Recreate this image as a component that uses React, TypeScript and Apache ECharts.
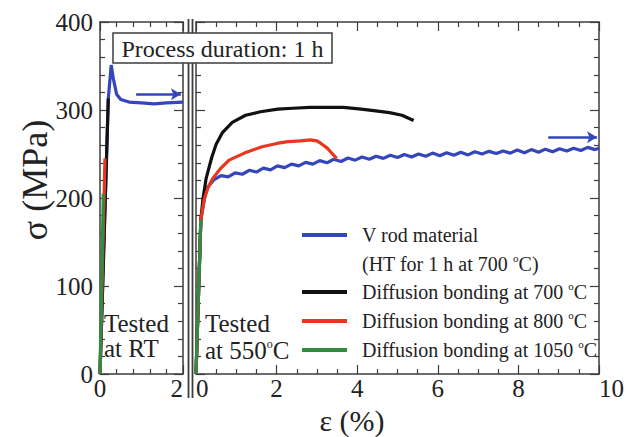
import React, { useEffect, useRef } from "react";
import * as echarts from "echarts";

// Stress–strain data, strain in %, stress in MPa
// Room-temperature tests (left panel)
const vRodRT: [number, number][] = [
  [0, 0], [0.2, 313], [0.27, 351], [0.32, 336], [0.4, 318], [0.5, 312],
  [0.7, 309], [1.0, 308], [1.3, 307], [1.6, 308], [2.0, 309],
];
const bond700RT: [number, number][] = [[0, 0], [0.2, 313]];
const bond800RT: [number, number][] = [[0, 0], [0.12, 245]];
const bond1050RT: [number, number][] = [[0, 0], [0.08, 205]];

// 550 °C tests (right panel)
const vRod550: [number, number][] = [
  [0, 0], [0.12, 175], [0.25, 210], [0.45, 221], [0.62, 225.5], [0.8, 224],
  [0.97, 228.5], [1.15, 227], [1.32, 231.5], [1.5, 229.5], [1.67, 234], [1.85, 232],
  [2.02, 236.5], [2.2, 234.5], [2.37, 238.5], [2.55, 236.5], [2.72, 240.5], [2.9, 238.5],
  [3.07, 242.5], [3.25, 240], [3.42, 244], [3.6, 241.5], [3.77, 245.5], [3.95, 243],
  [4.12, 246.5], [4.3, 244], [4.47, 247.5], [4.65, 245], [4.82, 248.5], [5.0, 246],
  [5.17, 249.5], [5.35, 246.5], [5.52, 250], [5.7, 247.5], [5.87, 251], [6.05, 248],
  [6.22, 251.5], [6.4, 248.5], [6.57, 252], [6.75, 249], [6.92, 252.5], [7.1, 250],
  [7.27, 253], [7.45, 250.5], [7.62, 253.5], [7.8, 251], [7.97, 254.5], [8.15, 251.5],
  [8.32, 255], [8.5, 252], [8.67, 255.5], [8.85, 252.5], [9.02, 256], [9.2, 253.5],
  [9.37, 256.5], [9.55, 254], [9.72, 257.5], [9.9, 255], [10.0, 256.5],
];
const bond700_550: [number, number][] = [
  [0, 0], [0.12, 175], [0.17, 198], [0.25, 222], [0.39, 246], [0.5, 261],
  [0.65, 274], [0.9, 286], [1.23, 294], [1.6, 298], [2.03, 301], [2.4, 302],
  [2.83, 303], [3.3, 303], [3.66, 303], [4.1, 301], [4.46, 299], [4.8, 297],
  [5.11, 294], [5.4, 288],
];
const bond800_550: [number, number][] = [
  [0, 0], [0.12, 175], [0.2, 198], [0.3, 212], [0.41, 222], [0.6, 233],
  [0.82, 243], [1.2, 251], [1.62, 258], [2.0, 262], [2.28, 264], [2.6, 265],
  [2.83, 266], [3.0, 265], [3.1, 262], [3.25, 257], [3.35, 252], [3.49, 245],
];
const bond1050_550: [number, number][] = [[0, 0], [0.12, 175]];

// "continues beyond the axis" arrows for the V rod curves
const arrowRT: [number, number][] = [[0.87, 318], [1.95, 318]];
const arrow550: [number, number][] = [[8.74, 269], [9.95, 269]];

const names = {
  vRod: "V rod material",
  b700: "Diffusion bonding at 700 °C",
  b800: "Diffusion bonding at 800 °C",
  b1050: "Diffusion bonding at 1050 °C",
};

const COLORS = {
  vRod: "#3546bd",
  b700: "#111111",
  b800: "#e8361f",
  b1050: "#2f8c40",
};

const FONT = "Liberation Serif";
const INK = "#222";
const FRAME = "#3d3d3d";

function xAxis(gridIndex: number, max: number, minorSplit: number, position: "top" | "bottom", labels: boolean, alignMin: string, alignMax: string) {
  return {
    type: "value",
    gridIndex,
    position,
    min: 0,
    max,
    interval: 2,
    axisLine: { show: true, onZero: false, lineStyle: { color: FRAME, width: 1.5 } },
    axisTick: { show: true, inside: true, length: 9, lineStyle: { color: FRAME, width: 1.2 } },
    minorTick: { show: true, splitNumber: minorSplit, length: 5, lineStyle: { color: FRAME, width: 1.2 } },
    splitLine: { show: false },
    axisLabel: {
      show: labels,
      fontFamily: FONT,
      fontSize: 25,
      color: INK,
      margin: 2,
      showMinLabel: true,
      showMaxLabel: true,
      alignMinLabel: alignMin,
      alignMaxLabel: alignMax,
    },
  };
}

function yAxis(gridIndex: number, position: "left" | "right", labels: boolean) {
  return {
    type: "value",
    gridIndex,
    position,
    min: 0,
    max: 400,
    interval: 100,
    axisLine: { show: true, onZero: false, lineStyle: { color: FRAME, width: 1.5 } },
    axisTick: { show: true, inside: true, length: 9, lineStyle: { color: FRAME, width: 1.2 } },
    minorTick: { show: true, splitNumber: 5, length: 5, lineStyle: { color: FRAME, width: 1.2 } },
    splitLine: { show: false },
    axisLabel: { show: labels, fontFamily: FONT, fontSize: 25, color: INK, margin: 7 },
  };
}

function curve(name: string, color: string, data: [number, number][], axis: number, z: number, arrow?: [number, number][]) {
  const s: any = {
    type: "line",
    name,
    xAxisIndex: axis,
    yAxisIndex: axis,
    data,
    showSymbol: false,
    symbol: "none",
    smooth: false,
    z,
    lineStyle: { color, width: 3.2 },
    emphasis: { disabled: true },
  };
  if (arrow) {
    s.markLine = {
      silent: true,
      symbol: ["none", "arrow"],
      symbolSize: [9, 10],
      label: { show: false },
      lineStyle: { color, width: 2.5, type: "solid" },
      data: [[{ coord: arrow[0] }, { coord: arrow[1] }]],
    };
  }
  return s;
}

const supRich = {
  sup: { fontFamily: FONT, fontSize: 12, fill: INK, padding: [0, 0, 14, 0] },
};

function legendRow(y: number, color: string | null, text: string) {
  const els: any[] = [];
  if (color) {
    els.push({
      type: "line",
      shape: { x1: 302, y1: y, x2: 347, y2: y },
      style: { stroke: color, lineWidth: 4 },
    });
  }
  els.push({
    type: "text",
    x: 362,
    y,
    style: {
      text,
      fontFamily: FONT,
      fontSize: 20,
      fill: INK,
      textVerticalAlign: "middle",
      rich: {
        sup: { fontFamily: FONT, fontSize: 11, fill: INK, padding: [0, 0, 13, 0] },
      },
    },
  });
  return els;
}

export default function App() {
  const ref = useRef<HTMLDivElement>(null);

  useEffect(() => {
    document.body.style.margin = "0";
    if (!ref.current) return;
    const chart = echarts.init(ref.current, null, { renderer: "svg" });

    const option: any = {
      animation: false,
      backgroundColor: "#ffffff",
      grid: [
        { left: 100, top: 22, width: 83, height: 352 },
        { left: 196, top: 22, width: 413, height: 352 },
      ],
      xAxis: [
        xAxis(0, 2, 5, "bottom", true, "center", "right"),
        xAxis(0, 2, 5, "top", false, "center", "center"),
        xAxis(1, 10, 4, "bottom", true, "left", "left"),
        xAxis(1, 10, 4, "top", false, "center", "center"),
      ],
      yAxis: [
        yAxis(0, "left", true),
        yAxis(0, "right", false),
        yAxis(1, "left", false),
        yAxis(1, "right", false),
      ],
      series: [
        curve(names.vRod, COLORS.vRod, vRodRT, 0, 2, arrowRT),
        curve(names.b700, COLORS.b700, bond700RT, 0, 3),
        curve(names.b800, COLORS.b800, bond800RT, 0, 4),
        curve(names.b1050, COLORS.b1050, bond1050RT, 0, 5),
        curve(names.vRod, COLORS.vRod, vRod550, 2, 2, arrow550),
        curve(names.b700, COLORS.b700, bond700_550, 2, 3),
        curve(names.b800, COLORS.b800, bond800_550, 2, 4),
        curve(names.b1050, COLORS.b1050, bond1050_550, 2, 5),
      ],
      graphic: [
        // axis break between the two panels
        { type: "line", shape: { x1: 188.5, y1: 19, x2: 188.5, y2: 398 }, style: { stroke: FRAME, lineWidth: 1.8 } },
        { type: "line", shape: { x1: 192.5, y1: 19, x2: 192.5, y2: 398 }, style: { stroke: FRAME, lineWidth: 1.8 } },
        // axis titles
        {
          type: "text",
          x: 35,
          y: 180,
          rotation: Math.PI / 2,
          style: { text: "σ (MPa)", fontFamily: FONT, fontSize: 36, fill: INK, textAlign: "center", textVerticalAlign: "middle" },
        },
        {
          type: "text",
          x: 352,
          y: 420,
          style: { text: "ε (%)", fontFamily: FONT, fontSize: 30, fill: INK, textAlign: "center", textVerticalAlign: "middle" },
        },
        // process duration box
        {
          type: "rect",
          shape: { x: 113, y: 33, width: 219, height: 30 },
          style: { fill: "#ffffff", stroke: FRAME, lineWidth: 1.5 },
          z: 10,
        },
        {
          type: "text",
          x: 222.5,
          y: 48.5,
          z: 11,
          style: { text: "Process duration: 1 h", fontFamily: FONT, fontSize: 24, fill: INK, textAlign: "center", textVerticalAlign: "middle" },
        },
        // test temperature notes
        {
          type: "text",
          x: 104,
          y: 336,
          style: { text: "Tested\nat RT", fontFamily: FONT, fontSize: 25, lineHeight: 25, fill: INK, textVerticalAlign: "middle" },
        },
        {
          type: "text",
          x: 205,
          y: 337,
          style: {
            text: "Tested\nat 550{sup|o}C",
            fontFamily: FONT,
            fontSize: 25,
            lineHeight: 27,
            fill: INK,
            textVerticalAlign: "middle",
            rich: supRich,
          },
        },
        // legend
        ...legendRow(235, COLORS.vRod, "V rod material"),
        ...legendRow(264, null, "(HT for 1 h at 700 {sup|o}C)"),
        ...legendRow(292, COLORS.b700, "Diffusion bonding at 700 {sup|o}C"),
        ...legendRow(321, COLORS.b800, "Diffusion bonding at 800 {sup|o}C"),
        ...legendRow(350, COLORS.b1050, "Diffusion bonding at 1050 {sup|o}C"),
      ],
    };

    chart.setOption(option);
    return () => chart.dispose();
  }, []);

  return <div ref={ref} style={{ width: 627, height: 437 }} />;
}
